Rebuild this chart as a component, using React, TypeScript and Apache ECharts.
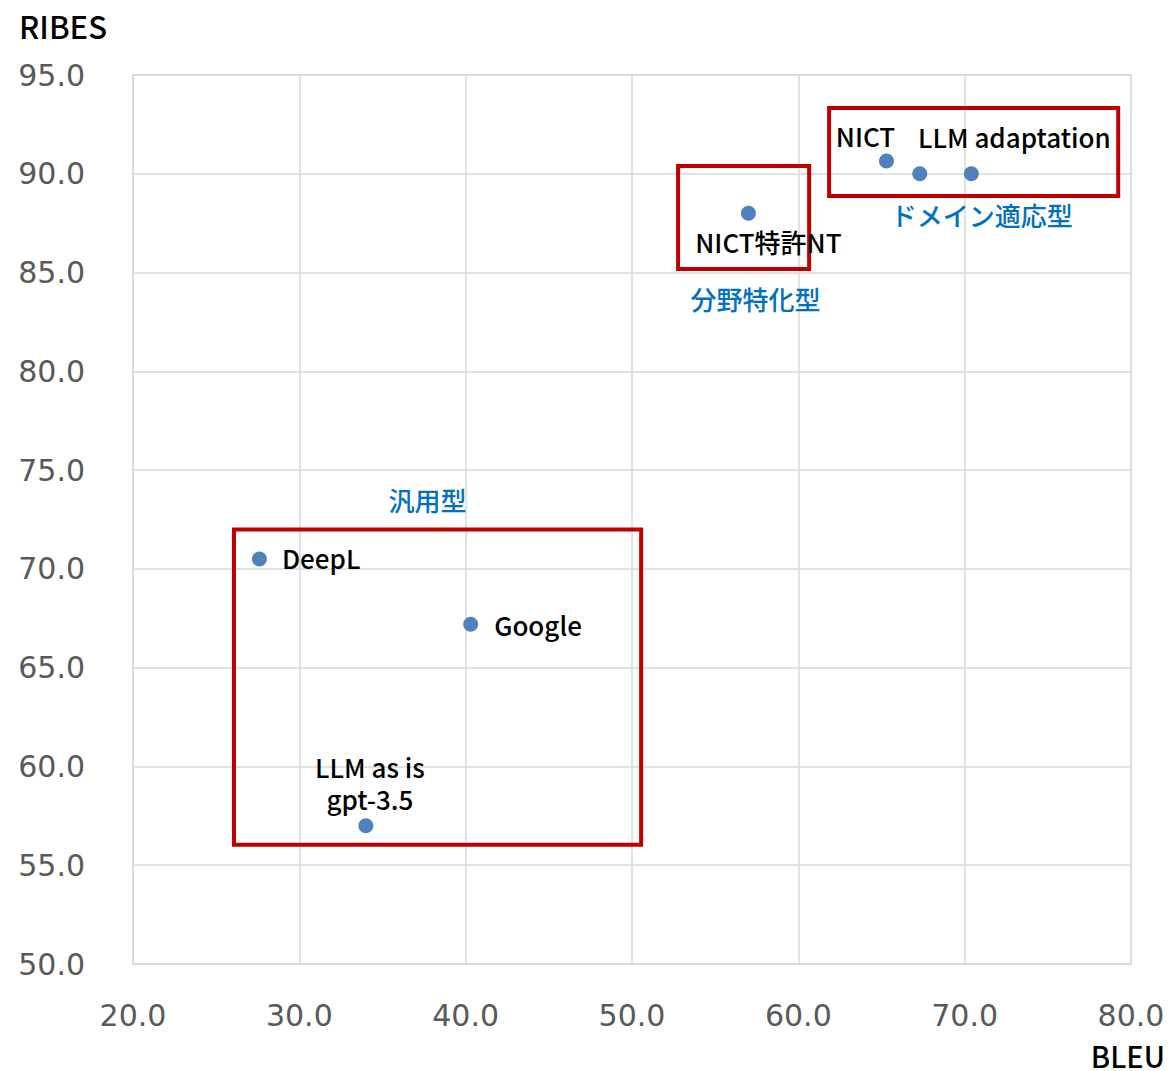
import React, { useEffect, useRef } from "react";
import * as echarts from "echarts";

const names = ["DeepL", "Google", "gpt-3.5", "NICT特許NT", "NICT", "", "LLM adaptation"];
const upperNames = ["", "", "LLM as is", "", "", "", ""];
const bleu = [27.6, 40.3, 34.0, 57.0, 65.3, 67.3, 70.4];
const ribes = [70.5, 67.2, 57.0, 88.0, 90.65, 90.0, 90.0];

const xTicks = { min: 20, max: 80, interval: 10 };
const yTicks = { min: 50, max: 95, interval: 5 };

const boxLabels = ["汎用型", "分野特化型", "ドメイン適応型"];
const boxX0 = [26.07, 52.77, 61.85];
const boxX1 = [50.55, 60.65, 79.23];
const boxY0 = [56.03, 85.18, 88.88];
const boxY1 = [72.0, 90.4, 93.33];

const FONT = "'Noto Sans CJK JP', 'Noto Sans', sans-serif";
const TICK_FONT = "'DejaVu Sans', 'Noto Sans', sans-serif";

const labelLayouts: any[] = [
  { position: "right", distance: 15, offset: [0, -2] },
  { position: "right", distance: 16 },
  { position: "top", distance: 7, offset: [4, 0], lineHeight: 26 },
  { position: "bottom", distance: 6, offset: [20, 0] },
  { position: "top", distance: 3, offset: [-21, 0] },
  { show: false },
  { position: "top", distance: 15, offset: [43, 0] },
];

const boxLabelLayouts: any[] = [
  { position: "top", distance: 15, offset: [-10, 0] },
  { position: "bottom", distance: 14, offset: [12, 0] },
  { position: "bottom", distance: 4, offset: [8, 0] },
];

const labelBase = {
  color: "#000",
  fontSize: 26,
  fontWeight: 500,
  fontFamily: FONT,
  lineHeight: 30,
};

export default function App() {
  const ref = useRef<HTMLDivElement>(null);
  useEffect(() => {
    if (!ref.current) return;
    const chart = echarts.init(ref.current, undefined, { renderer: "svg" });
    const data = bleu.map((x, i) => ({
      value: [x, ribes[i]],
      name: names[i],
      label: {
        show: names[i] !== "",
        formatter: names[i],
        ...labelBase,
        ...labelLayouts[i],
      },
    }));
    const upperData = bleu
      .map((x, i) => ({
        value: [x, ribes[i]],
        name: upperNames[i],
        label: {
          show: true,
          formatter: upperNames[i],
          ...labelBase,
          lineHeight: 26,
          position: "top",
          distance: 46,
          offset: [4, 0],
        },
      }))
      .filter((d) => d.name !== "");
    const areas = boxLabels.map((t, i) => [
      {
        name: t,
        coord: [boxX0[i], boxY1[i]],
        label: {
          show: true,
          color: "#0070c0",
          fontSize: 26,
          fontWeight: 500,
          fontFamily: FONT,
          ...boxLabelLayouts[i],
        },
      },
      { coord: [boxX1[i], boxY0[i]] },
    ]);
    chart.setOption({
      animation: false,
      backgroundColor: "#fff",
      grid: { left: 133, right: 42, top: 75, bottom: 107, show: true, borderColor: "#d9d9d9", borderWidth: 1.5 },
      xAxis: {
        type: "value",
        ...xTicks,
        axisLine: { show: true, lineStyle: { color: "#d9d9d9", width: 1.5 } },
        axisTick: { show: false },
        splitLine: { show: true, lineStyle: { color: "#d9d9d9", width: 1.5 } },
        axisLabel: {
          color: "#595959",
          fontSize: 30,
          fontFamily: TICK_FONT,
          margin: 36,
          formatter: (v: number) => v.toFixed(1),
        },
      },
      yAxis: {
        type: "value",
        ...yTicks,
        axisLine: { show: true, lineStyle: { color: "#d9d9d9", width: 1.5 } },
        axisTick: { show: false },
        splitLine: { show: true, lineStyle: { color: "#d9d9d9", width: 1.5 } },
        axisLabel: {
          color: "#595959",
          fontSize: 30,
          fontFamily: TICK_FONT,
          margin: 48,
          formatter: (v: number) => v.toFixed(1),
        },
      },
      graphic: [
        { type: "text", x: 19, y: 25, style: { text: "RIBES", fontSize: 31, fontWeight: 500, fontFamily: FONT, fill: "#000", verticalAlign: "middle", lineHeight: 32 } },
        { type: "text", x: 1165, y: 1055, style: { text: "BLEU", fontSize: 29, fontWeight: 500, fontFamily: FONT, fill: "#000", align: "right", verticalAlign: "middle", lineHeight: 30 } },
      ],
      series: [
        {
          type: "scatter",
          symbol: "circle",
          symbolSize: 15,
          itemStyle: { color: "#4f81bd", opacity: 1 },
          data,
          markArea: {
            silent: true,
            itemStyle: { color: "rgba(0,0,0,0)", borderColor: "#c00000", borderWidth: 4 },
            data: areas,
          },
        },
        {
          type: "scatter",
          symbolSize: 1,
          silent: true,
          itemStyle: { color: "rgba(0,0,0,0)", opacity: 1 },
          data: upperData,
        },
      ],
    });
    return () => chart.dispose();
  }, []);
  return <div ref={ref} style={{ position: "fixed", left: 0, top: 0, width: 1173, height: 1071 }} />;
}
